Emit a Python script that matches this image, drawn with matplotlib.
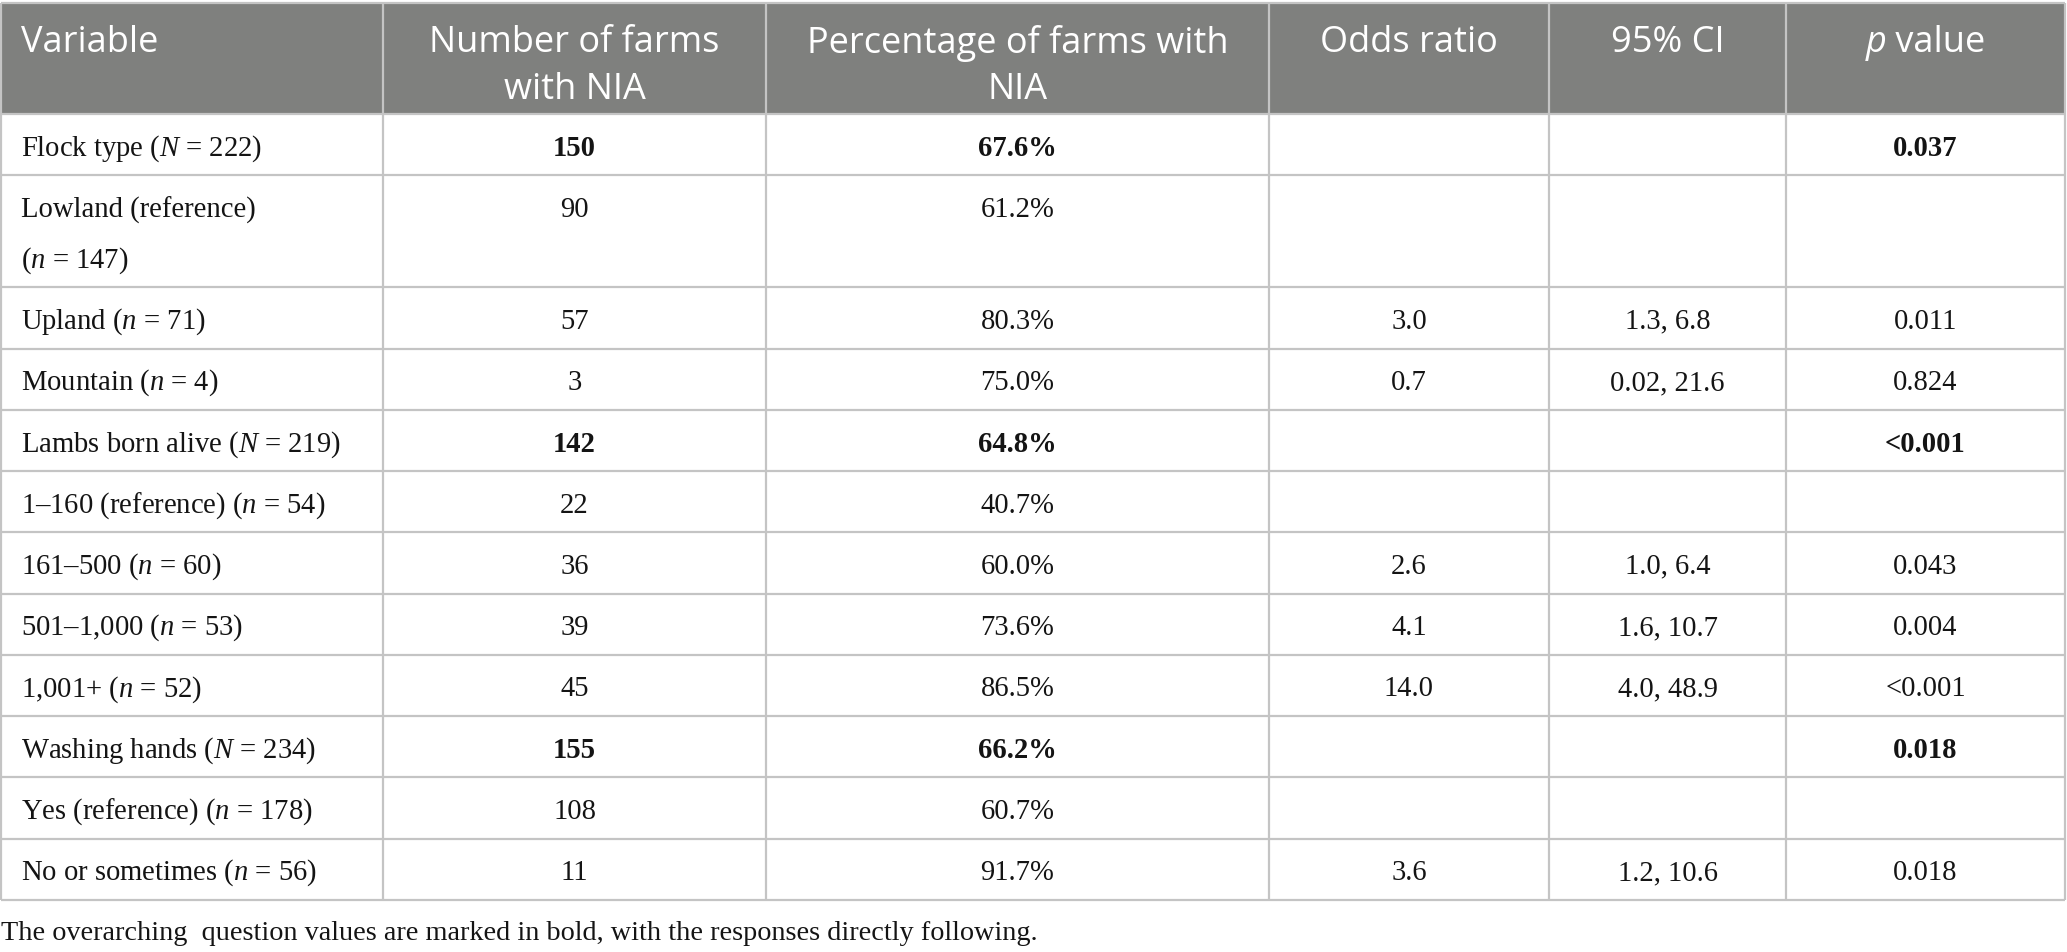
import matplotlib
matplotlib.use("Agg")
import matplotlib.pyplot as plt
from matplotlib.patches import Rectangle

plt.rcParams['mathtext.fontset'] = 'custom'
plt.rcParams['mathtext.rm'] = 'Liberation Serif'
plt.rcParams['mathtext.it'] = 'Liberation Serif:italic'
plt.rcParams['mathtext.bf'] = 'Liberation Serif:bold'

# ---------------- data ----------------
headers = ["Variable", "Number of farms\nwith NIA", "Percentage of farms with\nNIA",
           "Odds ratio", "95% CI", "p value"]
variables = [
    "Flock type ($\\mathit{N}$ = 222)",
    "Lowland (reference)\n($\\mathit{n}$ = 147)",
    "Upland ($\\mathit{n}$ = 71)",
    "Mountain ($\\mathit{n}$ = 4)",
    "Lambs born alive ($\\mathit{N}$ = 219)",
    "1\u2013160 (reference) ($\\mathit{n}$ = 54)",
    "161\u2013500 ($\\mathit{n}$ = 60)",
    "501\u20131,000 ($\\mathit{n}$ = 53)",
    "1,001+ ($\\mathit{n}$ = 52)",
    "Washing hands ($\\mathit{N}$ = 234)",
    "Yes (reference) ($\\mathit{n}$ = 178)",
    "No or sometimes ($\\mathit{n}$ = 56)",
]
num_farms = ["150", "90", "57", "3", "142", "22", "36", "39", "45", "155", "108", "11"]
pct_farms = ["67.6%", "61.2%", "80.3%", "75.0%", "64.8%", "40.7%", "60.0%", "73.6%",
             "86.5%", "66.2%", "60.7%", "91.7%"]
odds_ratio = ["", "", "3.0", "0.7", "", "", "2.6", "4.1", "14.0", "", "", "3.6"]
ci95 = ["", "", "1.3, 6.8", "0.02, 21.6", "", "", "1.0, 6.4", "1.6, 10.7", "4.0, 48.9",
        "", "", "1.2, 10.6"]
p_values = ["0.037", "", "0.011", "0.824", "<0.001", "", "0.043", "0.004", "<0.001",
            "0.018", "", "0.018"]
bold_rows = [0, 4, 9]
footnote = "The overarching  question values are marked in bold, with the responses directly following."

# ---------------- layout ----------------
W, H = 2067, 953
fig = plt.figure(figsize=(W / 100, H / 100), dpi=100)
ax = fig.add_axes([0, 0, 1, 1])
ax.set_xlim(0, W)
ax.set_ylim(H, 0)
ax.axis('off')

col_edges = [1, 383, 766, 1269, 1549, 1786, 2065]
top = 4
header_bottom = 115
single_h = 61.25
double_h = 112
row_heights = [single_h, double_h] + [single_h] * 10

header_color = '#7f807e'
line_color = '#c4c4c4'
text_color = '#141414'
body_fs = 20.6
head_fs = 26
sans = 'Open Sans'
serif = 'Liberation Serif'

ax.add_patch(Rectangle((col_edges[0], top), col_edges[-1] - col_edges[0],
                       header_bottom - top, facecolor=header_color, edgecolor='none', zorder=0))

# row boundaries
ys = [top, header_bottom]
for h in row_heights:
    ys.append(ys[-1] + h)
for y in ys:
    ax.plot([col_edges[0], col_edges[-1]], [y, y], color=line_color, lw=1.6, zorder=2,
            solid_capstyle='butt')
for x in col_edges:
    ax.plot([x, x], [top, ys[-1]], color=line_color, lw=1.6, zorder=2, solid_capstyle='butt')

# header text
head_y = 43
line_gap = 47
centers = [(col_edges[i] + col_edges[i + 1]) / 2 for i in range(len(col_edges) - 1)]
fig.canvas.draw()
rend = fig.canvas.get_renderer()
for i, htxt in enumerate(headers):
    lines = htxt.split("\n")
    for k, ln in enumerate(lines):
        yy = head_y + k * line_gap
        if i == 0:
            ax.text(21, yy, ln, fontsize=head_fs, family=sans, color='white',
                    ha='left', va='center')
        elif i == 5:
            # italic "p" then " value"
            t1 = ax.text(0, yy, "p", fontsize=head_fs, family=sans, style='italic',
                         color='white', ha='left', va='center')
            t2 = ax.text(0, yy, "\u00a0value", fontsize=head_fs, family=sans, color='white',
                         ha='left', va='center')
            w1 = t1.get_window_extent(rend).width
            w2 = t2.get_window_extent(rend).width
            x0 = centers[i] - (w1 + w2) / 2
            t1.set_x(x0)
            t2.set_x(x0 + w1)
        else:
            ax.text(centers[i], yy, ln, fontsize=head_fs, family=sans, color='white',
                    ha='center', va='center')

# body text
cols = [num_farms, pct_farms, odds_ratio, ci95, p_values]
for r_i in range(len(variables)):
    y0 = ys[r_i + 1]
    first_y = y0 + single_h / 2 + 3
    lines = variables[r_i].split("\n")
    for k, ln in enumerate(lines):
        ax.text(21, first_y + k * 51, ln, fontsize=body_fs, family=serif, color=text_color,
                ha='left', va='center')
    for c_i, col in enumerate(cols):
        val = col[r_i]
        if not val:
            continue
        ax.text(centers[c_i + 1], first_y, val, fontsize=body_fs, family=serif,
                color=text_color, ha='center', va='center',
                fontweight='bold' if r_i in bold_rows else 'normal')

ax.text(1, 934, footnote, fontsize=20.3, family=serif, color=text_color, ha='left', va='center')

fig.savefig("out.png", dpi=100)
